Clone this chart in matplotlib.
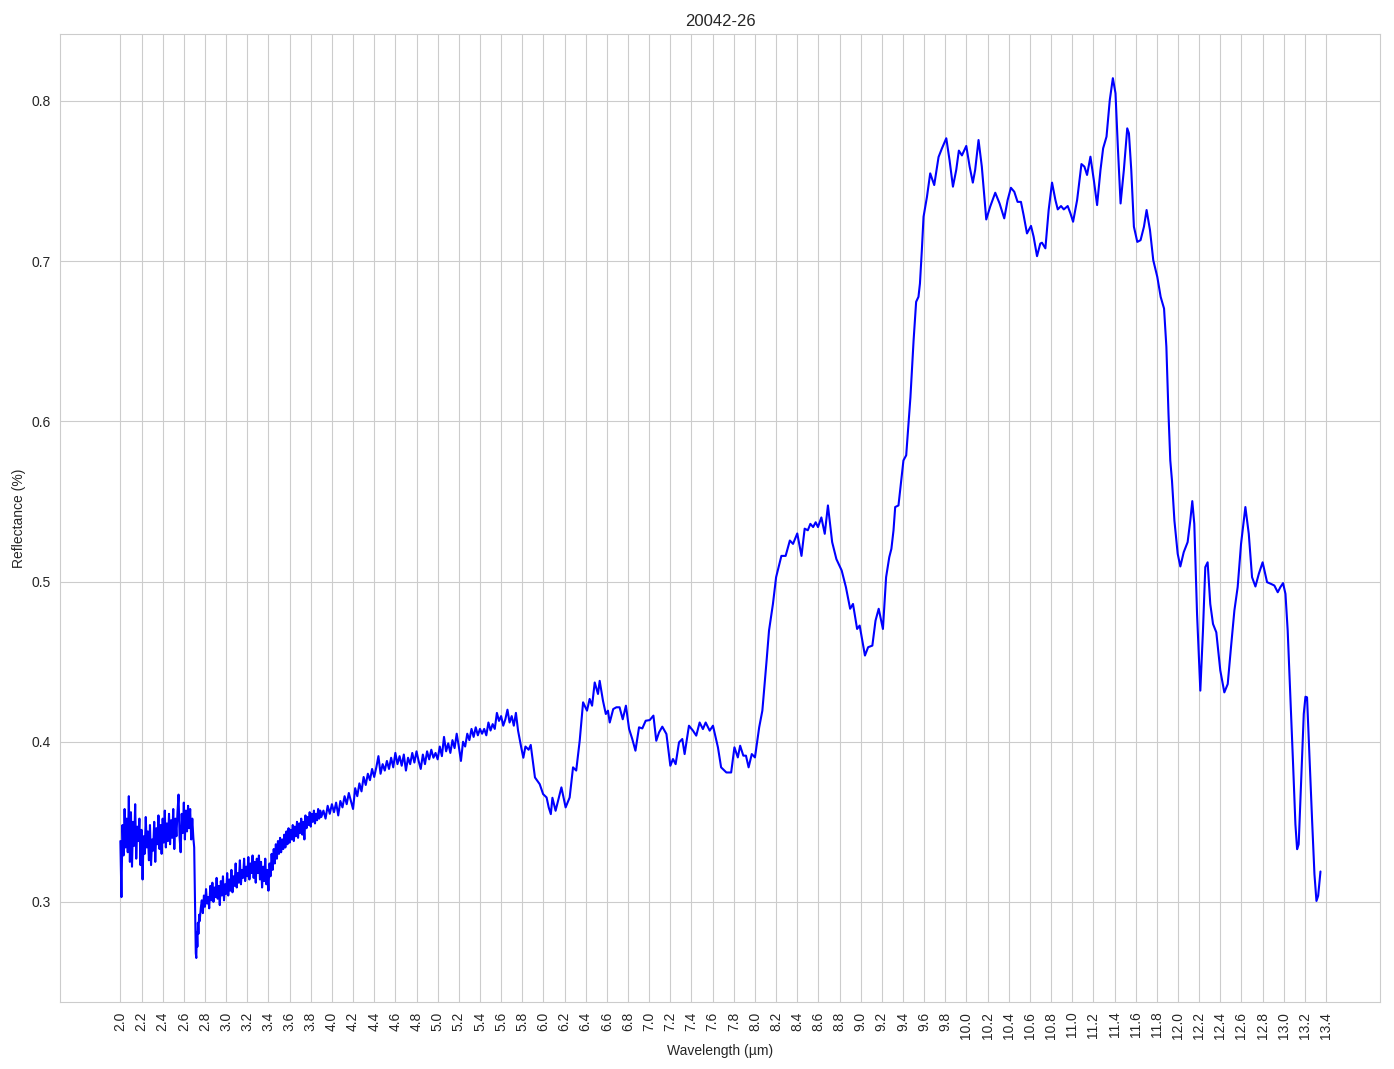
import numpy as np
import matplotlib
matplotlib.use("Agg")
import matplotlib.pyplot as plt
import seaborn as sns

# Sample 20042-26, spectrum
# noisy start of the spectrum (2.00 - 2.68 um)
wl_start = [2.00, 2.01, 2.02, 2.03, 2.04, 2.05, 2.06, 2.07, 2.08, 2.09,
            2.10, 2.11, 2.12, 2.13, 2.14, 2.15, 2.16, 2.17, 2.18, 2.19,
            2.20, 2.21, 2.22, 2.23, 2.24, 2.25, 2.26, 2.27, 2.28, 2.29,
            2.30, 2.31, 2.32, 2.33, 2.34, 2.35, 2.36, 2.37, 2.38, 2.39,
            2.40, 2.41, 2.42, 2.43, 2.44, 2.45, 2.46, 2.47, 2.48, 2.49,
            2.50, 2.51, 2.52, 2.53, 2.54, 2.55, 2.56, 2.57, 2.58, 2.59,
            2.60, 2.61, 2.62, 2.63, 2.64, 2.65, 2.66, 2.67, 2.68]
refl_start = [0.338, 0.303, 0.348, 0.329, 0.358, 0.334, 0.352, 0.331, 0.366, 0.325,
              0.356, 0.322, 0.350, 0.335, 0.361, 0.327, 0.347, 0.338, 0.352, 0.323,
              0.345, 0.314, 0.341, 0.330, 0.353, 0.334, 0.344, 0.326, 0.348, 0.323,
              0.339, 0.332, 0.350, 0.325, 0.346, 0.336, 0.354, 0.333, 0.348, 0.330,
              0.352, 0.337, 0.357, 0.334, 0.349, 0.338, 0.355, 0.336, 0.351, 0.340,
              0.358, 0.333, 0.352, 0.341, 0.356, 0.367, 0.340, 0.331, 0.355, 0.343,
              0.362, 0.339, 0.357, 0.344, 0.360, 0.346, 0.358, 0.339, 0.352]

# sharp drop near 2.7 um
wl_drop = [2.690, 2.698, 2.703, 2.708, 2.713, 2.718, 2.723, 2.728, 2.733, 2.738, 2.745, 2.750]
refl_drop = [0.340, 0.334, 0.314, 0.290, 0.268, 0.265, 0.281, 0.272, 0.287, 0.280, 0.292, 0.288]

# noisy rise 2.76 - 3.90 um
wl_rise = [2.76, 2.77, 2.78, 2.79, 2.80, 2.81, 2.82, 2.83, 2.84, 2.85,
           2.86, 2.87, 2.88, 2.89, 2.90, 2.91, 2.92, 2.93, 2.94, 2.95,
           2.96, 2.97, 2.98, 2.99, 3.00, 3.01, 3.02, 3.03, 3.04, 3.05,
           3.06, 3.07, 3.08, 3.09, 3.10, 3.11, 3.12, 3.13, 3.14, 3.15,
           3.16, 3.17, 3.18, 3.19, 3.20, 3.21, 3.22, 3.23, 3.24, 3.25,
           3.26, 3.27, 3.28, 3.29, 3.30, 3.31, 3.32, 3.33, 3.34, 3.35,
           3.36, 3.37, 3.38, 3.39, 3.40, 3.41, 3.42, 3.43, 3.44, 3.45,
           3.46, 3.47, 3.48, 3.49, 3.50, 3.51, 3.52, 3.53, 3.54, 3.55,
           3.56, 3.57, 3.58, 3.59, 3.60, 3.61, 3.62, 3.63, 3.64, 3.65,
           3.66, 3.67, 3.68, 3.69, 3.70, 3.71, 3.72, 3.73, 3.74, 3.75,
           3.76, 3.77, 3.78, 3.79, 3.80, 3.81, 3.82, 3.83, 3.84, 3.85,
           3.86, 3.87, 3.88, 3.89, 3.90]
refl_rise = [0.296, 0.301, 0.293, 0.304, 0.297, 0.308, 0.299, 0.303, 0.296, 0.310,
             0.301, 0.312, 0.300, 0.309, 0.303, 0.315, 0.302, 0.310, 0.298, 0.313,
             0.304, 0.316, 0.301, 0.311, 0.305, 0.318, 0.304, 0.314, 0.307, 0.320,
             0.306, 0.316, 0.310, 0.324, 0.309, 0.318, 0.312, 0.326, 0.311, 0.320,
             0.315, 0.327, 0.313, 0.322, 0.316, 0.328, 0.314, 0.324, 0.318, 0.329,
             0.315, 0.325, 0.312, 0.327, 0.318, 0.329, 0.314, 0.325, 0.309, 0.322,
             0.313, 0.327, 0.311, 0.320, 0.307, 0.324, 0.316, 0.330, 0.320, 0.333,
             0.324, 0.336, 0.327, 0.338, 0.330, 0.340, 0.331, 0.339, 0.333, 0.342,
             0.334, 0.344, 0.336, 0.346, 0.337, 0.345, 0.339, 0.348, 0.338, 0.347,
             0.341, 0.350, 0.340, 0.349, 0.343, 0.352, 0.342, 0.350, 0.339, 0.354,
             0.346, 0.353, 0.348, 0.356, 0.347, 0.355, 0.350, 0.357, 0.349, 0.355,
             0.351, 0.358, 0.352, 0.357, 0.353]

# slow climb 3.92 - 5.74 um
wl_mid = [3.92, 3.94, 3.96, 3.98, 4.00, 4.02, 4.04, 4.06, 4.08, 4.10,
          4.12, 4.14, 4.16, 4.18, 4.20, 4.22, 4.24, 4.26, 4.28, 4.30,
          4.32, 4.34, 4.36, 4.38, 4.40, 4.42, 4.44, 4.46, 4.48, 4.50,
          4.52, 4.54, 4.56, 4.58, 4.60, 4.62, 4.64, 4.66, 4.68, 4.70,
          4.72, 4.74, 4.76, 4.78, 4.80, 4.82, 4.84, 4.86, 4.88, 4.90,
          4.92, 4.94, 4.96, 4.98, 5.00, 5.02, 5.04, 5.06, 5.08, 5.10,
          5.12, 5.14, 5.16, 5.18, 5.20, 5.22, 5.24, 5.26, 5.28, 5.30,
          5.32, 5.34, 5.36, 5.38, 5.40, 5.42, 5.44, 5.46, 5.48, 5.50,
          5.52, 5.54, 5.56, 5.58, 5.60, 5.62, 5.64, 5.66, 5.68, 5.70,
          5.72, 5.74]
refl_mid = [0.357, 0.352, 0.360, 0.355, 0.361, 0.356, 0.362, 0.354, 0.363, 0.359,
            0.366, 0.361, 0.368, 0.363, 0.358, 0.371, 0.366, 0.374, 0.369, 0.378,
            0.373, 0.380, 0.376, 0.383, 0.378, 0.384, 0.391, 0.380, 0.386, 0.382,
            0.388, 0.383, 0.390, 0.384, 0.393, 0.386, 0.391, 0.385, 0.392, 0.382,
            0.390, 0.386, 0.393, 0.387, 0.394, 0.388, 0.383, 0.392, 0.386, 0.394,
            0.389, 0.395, 0.390, 0.393, 0.389, 0.397, 0.391, 0.403, 0.394, 0.399,
            0.393, 0.401, 0.396, 0.405, 0.397, 0.388, 0.400, 0.397, 0.405, 0.401,
            0.408, 0.403, 0.409, 0.404, 0.408, 0.405, 0.408, 0.404, 0.412, 0.407,
            0.411, 0.408, 0.418, 0.413, 0.416, 0.410, 0.414, 0.420, 0.412, 0.416,
            0.410, 0.418]

# smoother long-wave part 5.76 - 13.35 um
wl_smooth = [5.76, 5.79, 5.81, 5.83, 5.86, 5.88, 5.92, 5.965, 5.997, 6.03,
             6.05, 6.07, 6.085, 6.115, 6.17, 6.21, 6.248, 6.28, 6.31, 6.343,
             6.375, 6.412, 6.437, 6.46, 6.485, 6.516, 6.532, 6.563, 6.59, 6.61,
             6.627, 6.66, 6.69, 6.72, 6.75, 6.78, 6.81, 6.84, 6.87, 6.904,
             6.935, 6.967, 7.005, 7.04, 7.067, 7.093, 7.124, 7.163, 7.2, 7.225,
             7.25, 7.282, 7.313, 7.335, 7.376, 7.414, 7.445, 7.477, 7.508, 7.534,
             7.572, 7.603, 7.65, 7.68, 7.73, 7.775, 7.806, 7.838, 7.86, 7.89,
             7.915, 7.94, 7.97, 8.0, 8.04, 8.07, 8.11, 8.133, 8.17, 8.2,
             8.25, 8.29, 8.33, 8.36, 8.4, 8.44, 8.47, 8.5, 8.524, 8.55,
             8.574, 8.596, 8.628, 8.66, 8.69, 8.73, 8.77, 8.82, 8.86, 8.9,
             8.927, 8.966, 8.99, 9.04, 9.07, 9.11, 9.14, 9.17, 9.21, 9.24,
             9.27, 9.29, 9.31, 9.326, 9.357, 9.38, 9.404, 9.43, 9.45, 9.47,
             9.5, 9.524, 9.546, 9.56, 9.578, 9.594, 9.626, 9.657, 9.695, 9.736,
             9.768, 9.809, 9.84, 9.872, 9.903, 9.928, 9.957, 9.998, 10.03, 10.06,
             10.082, 10.114, 10.145, 10.187, 10.224, 10.272, 10.313, 10.357, 10.389, 10.42,
             10.452, 10.483, 10.515, 10.54, 10.572, 10.61, 10.635, 10.667, 10.698, 10.714,
             10.746, 10.777, 10.809, 10.841, 10.863, 10.894, 10.92, 10.957, 10.983, 11.008,
             11.046, 11.087, 11.115, 11.14, 11.172, 11.204, 11.235, 11.267, 11.292, 11.324,
             11.355, 11.384, 11.409, 11.431, 11.457, 11.488, 11.52, 11.536, 11.558, 11.583,
             11.615, 11.646, 11.678, 11.703, 11.735, 11.766, 11.804, 11.836, 11.868, 11.89,
             11.91, 11.927, 11.943, 11.966, 11.997, 12.022, 12.054, 12.091, 12.116, 12.135,
             12.154, 12.18, 12.211, 12.236, 12.258, 12.28, 12.305, 12.331, 12.362, 12.4,
             12.438, 12.47, 12.501, 12.533, 12.564, 12.596, 12.637, 12.669, 12.7, 12.732,
             12.764, 12.8, 12.842, 12.88, 12.911, 12.943, 12.968, 12.993, 13.016, 13.037,
             13.063, 13.088, 13.11, 13.126, 13.141, 13.164, 13.189, 13.205, 13.22, 13.246,
             13.268, 13.29, 13.309, 13.325, 13.347]
refl_smooth = [0.407, 0.3965, 0.390, 0.397, 0.395, 0.398, 0.3777, 0.3735, 0.3673, 0.3652,
               0.359, 0.3548, 0.365, 0.3569, 0.3715, 0.359, 0.3652, 0.384, 0.382, 0.4006,
               0.4246, 0.4194, 0.4267, 0.4225, 0.437, 0.4298, 0.438, 0.4256, 0.4173, 0.4194,
               0.412, 0.4204, 0.4215, 0.4215, 0.414, 0.4225, 0.408, 0.4017, 0.3944, 0.409,
               0.4083, 0.4131, 0.4135, 0.4163, 0.4006, 0.4058, 0.4094, 0.4048, 0.385, 0.3892,
               0.386, 0.3996, 0.4017, 0.3923, 0.410, 0.4069, 0.4038, 0.412, 0.4079, 0.412,
               0.4069, 0.410, 0.3965, 0.384, 0.3808, 0.3808, 0.3965, 0.3902, 0.3975, 0.3913,
               0.3913, 0.384, 0.3923, 0.3902, 0.409, 0.4194, 0.4506, 0.4694, 0.486, 0.5027,
               0.516, 0.516, 0.5256, 0.5235, 0.530, 0.516, 0.533, 0.532, 0.536, 0.534,
               0.537, 0.534, 0.540, 0.5298, 0.5475, 0.5246, 0.514, 0.5069, 0.4965, 0.483,
               0.486, 0.4704, 0.4725, 0.4538, 0.459, 0.460, 0.4756, 0.483, 0.4704, 0.5027,
               0.5152, 0.5204, 0.5319, 0.5465, 0.5475, 0.561, 0.5756, 0.5788, 0.5965, 0.615,
               0.6506, 0.6746, 0.6777, 0.686, 0.7069, 0.7277, 0.740, 0.7548, 0.7475, 0.765,
               0.7704, 0.7767, 0.763, 0.7465, 0.7569, 0.769, 0.766, 0.7719, 0.759, 0.749,
               0.7569, 0.7756, 0.759, 0.726, 0.734, 0.7427, 0.736, 0.7267, 0.7381, 0.7458,
               0.7433, 0.737, 0.737, 0.7288, 0.7173, 0.722, 0.7152, 0.7031, 0.711, 0.7115,
               0.708, 0.7319, 0.749, 0.7381, 0.7323, 0.7344, 0.7323, 0.7344, 0.7298, 0.7246,
               0.7381, 0.7606, 0.759, 0.7538, 0.7652, 0.7506, 0.735, 0.7569, 0.7704, 0.7777,
               0.8006, 0.8142, 0.8048, 0.7715, 0.736, 0.7569, 0.7829, 0.7798, 0.7569, 0.7215,
               0.712, 0.7131, 0.7215, 0.7319, 0.7194, 0.7006, 0.6902, 0.6777, 0.6704, 0.6465,
               0.6048, 0.5756, 0.563, 0.538, 0.5173, 0.5094, 0.5183, 0.5246, 0.538, 0.5502,
               0.536, 0.4798, 0.4319, 0.4694, 0.509, 0.512, 0.486, 0.4735, 0.4683, 0.4444,
               0.4308, 0.436, 0.459, 0.4819, 0.4965, 0.5235, 0.5465, 0.5298, 0.5027, 0.4969,
               0.5048, 0.512, 0.4996, 0.4985, 0.4975, 0.4933, 0.4965, 0.499, 0.4923, 0.4694,
               0.4277, 0.386, 0.3485, 0.3329, 0.336, 0.3756, 0.4173, 0.4281, 0.4277, 0.386,
               0.3506, 0.3173, 0.3006, 0.3038, 0.319]

wavelength = np.array(wl_start + wl_drop + wl_rise + wl_mid + wl_smooth)
reflectance = np.array(refl_start + refl_drop + refl_rise + refl_mid + refl_smooth)

sns.set_style("whitegrid")
plt.rcParams["font.family"] = ["Liberation Sans", "DejaVu Sans"]

fig = plt.figure(figsize=(13.94, 10.69), dpi=100)
ax = fig.add_subplot(111)
fig.subplots_adjust(left=0.0433, right=0.9903, top=0.968, bottom=0.0627)

ax.plot(wavelength, reflectance, color="blue", linewidth=1.5)

ax.set_xticks(np.arange(2.0, 13.5, 0.2))
ax.set_xticklabels([f"{t:.1f}" for t in np.arange(2.0, 13.5, 0.2)], rotation=90)
ax.set_xlabel("Wavelength (µm)")
ax.set_ylabel("Reflectance (%)")
ax.set_title("20042-26")

fig.savefig("out.png", dpi=100)
plt.close(fig)
